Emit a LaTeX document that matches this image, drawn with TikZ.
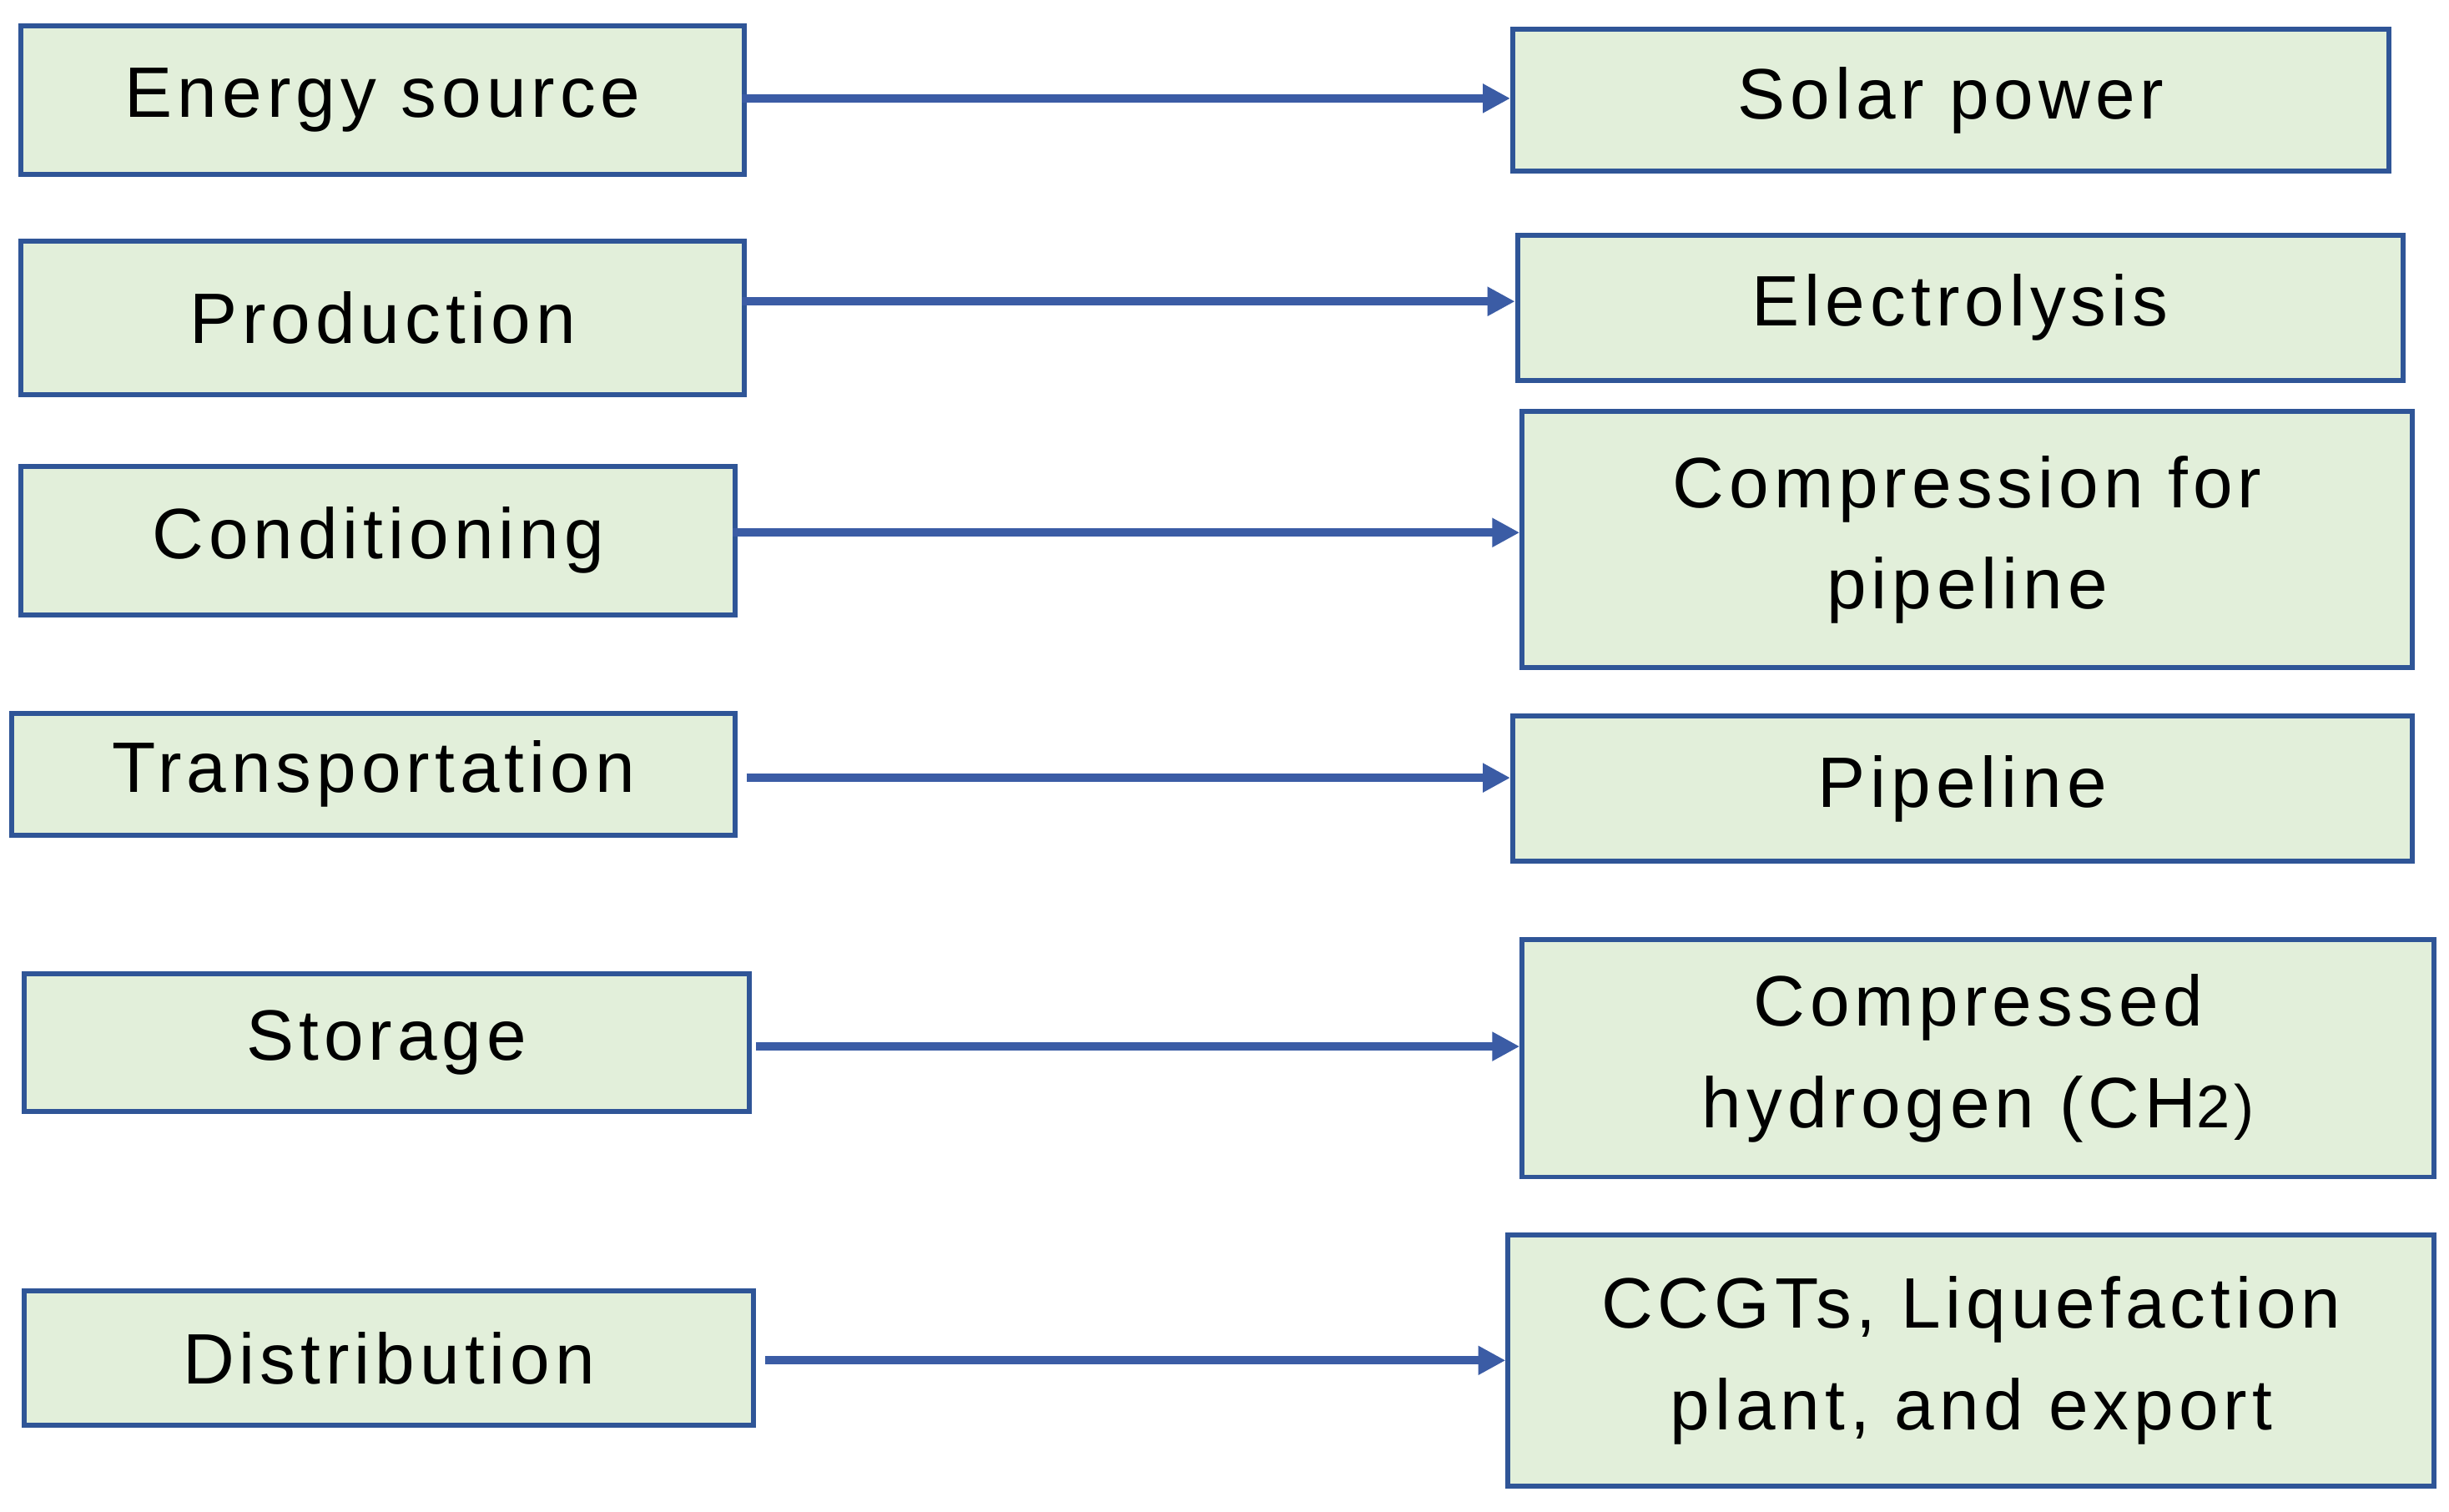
\documentclass[tikz,border=0pt]{standalone}
\usepackage{fontspec}
\setmainfont[LetterSpace=7]{Liberation Sans}
\usetikzlibrary{arrows.meta}
\definecolor{boxfill}{HTML}{E2EFDA}
\definecolor{boxline}{HTML}{2F5597}
\definecolor{arr}{HTML}{3B5CA5}
\begin{document}
\begin{tikzpicture}[x=0.01cm,y=-0.01cm,
  box/.style={draw=boxline,line width=0.9pt,fill=boxfill,anchor=north west,inner sep=0pt,align=center,font=\fontsize{13}{18.5}\selectfont},
  conn/.style={draw=arr,line width=1.5pt,-{Triangle[length=5pt,width=5pt]}}]
\useasboundingbox (0,0) rectangle (1568,968);
\newcommand{\bx}[6]{\node[box,minimum width={(#4-#2)*0.01cm},minimum height={(#5-#3)*0.01cm}] (#1) at (#2,#3) {#6};}
\bx{l1}{12}{15}{475}{110}{Energy source}
\bx{l2}{12}{153}{475}{251}{Production}
\bx{l3}{12}{297}{469}{392}{Conditioning}
\bx{l4}{6}{455}{469}{533}{\raisebox{-6pt}{Transportation}}
\bx{l5}{14}{622}{478}{710}{Storage}
\bx{l6}{14}{825}{481}{911}{Distribution}
\bx{r1}{967}{17}{1528}{108}{Solar power}
\bx{r2}{970}{149}{1537}{242}{Electrolysis}
\bx{r3}{973}{262}{1543}{426}{Compression for\\pipeline}
\bx{r4}{967}{457}{1543}{550}{Pipeline}
\bx{r5}{973}{600}{1557}{752}{Compressed\\hydrogen (CH{\fontsize{11}{12}\selectfont 2)}}
\bx{r6}{964}{789}{1557}{950}{CCGTs, Liquefaction\\plant, and export}
\coordinate (a1) at (475,63); \coordinate (a2) at (475,193); \coordinate (a3) at (469,341);
\coordinate (a4) at (478,498); \coordinate (a5) at (484,670); \coordinate (a6) at (490,871);
\foreach \i in {1,...,6}{\draw[conn] (a\i) -- (a\i -| r\i.west);}
\end{tikzpicture}
\end{document}
